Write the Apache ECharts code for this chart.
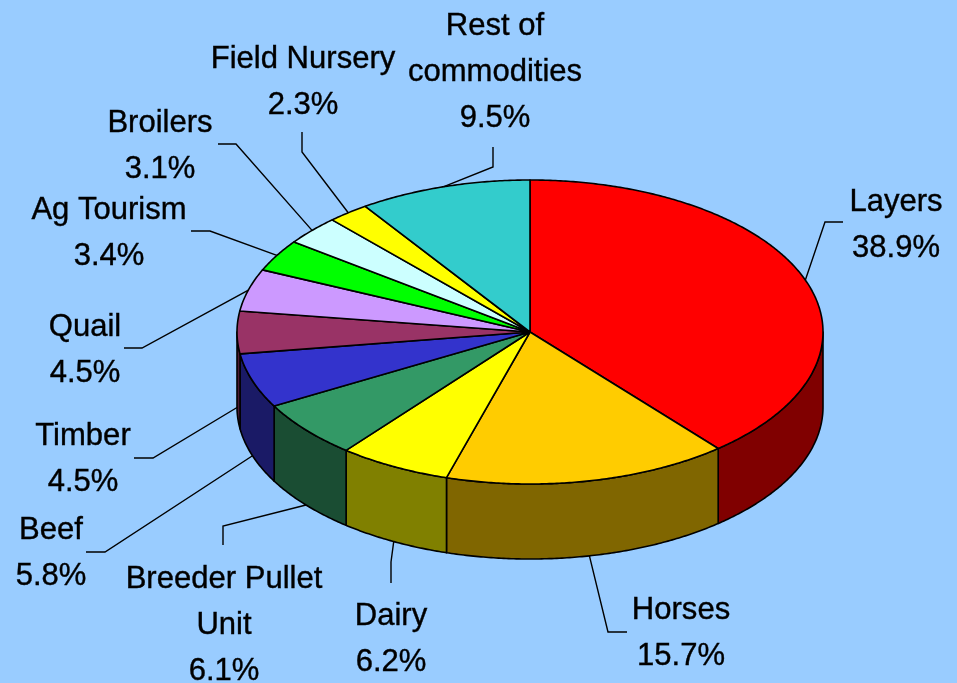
<!DOCTYPE html>
<html>
<head>
<meta charset="utf-8">
<title>Commodity share</title>
<style>html,body{margin:0;height:100%;background:#99CCFF}#chart{width:957px;height:683px}</style>
<script src="https://cdn.jsdelivr.net/npm/echarts@6/dist/echarts.min.js"></script>
</head>
<body>
<div id="chart"></div>
<script>
const names = ["Layers", "Horses", "Dairy", "Breeder Pullet\nUnit", "Beef", "Timber", "Quail", "Ag Tourism", "Broilers", "Field Nursery", "Rest of\ncommodities"];
const shares = [38.9, 15.7, 6.2, 6.1, 5.8, 4.5, 4.5, 3.4, 3.1, 2.3, 9.5];
const topColors = ["#FF0000", "#FFCC00", "#FFFF00", "#339966", "#3333CC", "#993366", "#CC99FF", "#00FF00", "#CCFFFF", "#FFFF00", "#33CCCC"];
const wallColors = ["#800000", "#806600", "#808000", "#1A4D33", "#1A1A66", "#4D1A33", "#664D80", "#008000", "#668080", "#808000", "#1A6666"];

// label centre, then the two fixed points of its leader (the third is on the pie edge)
const labelPos = [[896, 225], [681, 633], [391, 639], [224, 625], [51, 553], [83, 459], [85, 350], [109, 233], [160, 146], [303, 82], [495, 72]];
const leaderPts = [
  [[843, 222], [825, 222]],
  [[627, 632], [608, 632]],
  [[391, 583], [391, 562]],
  [[223, 545], [223, 526]],
  [[86, 552], [105, 552]],
  [[134, 458], [153, 458]],
  [[124, 348], [142, 348]],
  [[191, 231], [210, 231]],
  [[218, 144], [236, 144]],
  [[302, 132], [302, 152]],
  [[493, 147], [493, 167]],
];

const CX = 530, CY = 332, RX = 293, RY = 152, DEPTH = 75;
const DEG = Math.PI / 180;
const total = shares.reduce((a, b) => a + b, 0);

// start/end angle of each slice, clockwise from 12 o'clock
const ranges = [];
shares.reduce((acc, v) => {
  ranges.push([(acc / total) * 360, ((acc + v) / total) * 360]);
  return acc + v;
}, 0);

const onEdge = (t, dy = 0) => [CX + RX * Math.sin(t * DEG), CY - RY * Math.cos(t * DEG) + dy];
const arc = (a, b, dy = 0) => {
  const n = Math.max(2, Math.ceil(Math.abs(b - a) * 2));
  const pts = [];
  for (let i = 0; i <= n; i++) pts.push(onEdge(a + ((b - a) * i) / n, dy));
  return pts;
};

const sliceStyle = (fill) => ({ fill, stroke: "#000", lineWidth: 1.6, lineJoin: "round" });

function renderWall(params) {
  const [a, b] = ranges[params.dataIndex];
  const from = Math.max(a, 90), to = Math.min(b, 270);
  if (from >= to) return null;
  return {
    type: "polygon",
    shape: { points: arc(from, to).concat(arc(to, from, DEPTH)) },
    style: sliceStyle(wallColors[params.dataIndex]),
  };
}

function renderTop(params) {
  const [a, b] = ranges[params.dataIndex];
  return {
    type: "polygon",
    shape: { points: [[CX, CY]].concat(arc(a, b)) },
    style: sliceStyle(topColors[params.dataIndex]),
  };
}

function renderLabel(params) {
  const i = params.dataIndex;
  const [a, b] = ranges[i];
  const mid = (a + b) / 2;
  const front = mid > 90 && mid < 270;
  const [x, y] = labelPos[i];
  return {
    type: "group",
    children: [
      {
        type: "polyline",
        shape: { points: leaderPts[i].concat([onEdge(mid, front ? DEPTH : 0)]) },
        style: { fill: null, stroke: "#000", lineWidth: 1.4 },
      },
      {
        type: "text",
        x,
        y,
        scaleX: 0.97,
        style: {
          text: names[i] + "\n" + shares[i].toFixed(1) + "%",
          fill: "#000",
          stroke: "#000",
          lineWidth: 0.4,
          font: '32px "Liberation Sans", Arial, sans-serif',
          lineHeight: 46,
          align: "center",
          verticalAlign: "middle",
        },
      },
    ],
  };
}

const custom = (renderItem, z) => ({
  type: "custom",
  coordinateSystem: "none",
  data: shares,
  renderItem,
  silent: true,
  z,
});

const chart = echarts.init(document.getElementById("chart"), null, { renderer: "canvas" });
chart.setOption({
  backgroundColor: "#99CCFF",
  animation: false,
  series: [custom(renderWall, 1), custom(renderTop, 2), custom(renderLabel, 3)],
});
</script>
</body>
</html>
